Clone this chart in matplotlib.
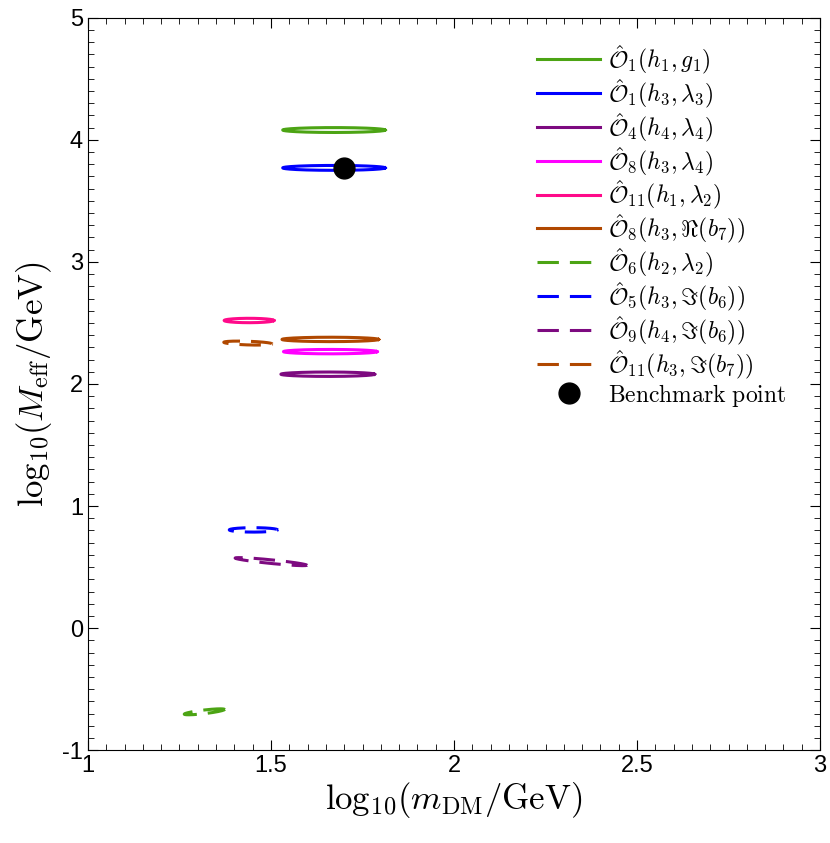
import matplotlib
matplotlib.use("Agg")
import matplotlib.pyplot as plt
import numpy as np

plt.rcParams['mathtext.fontset'] = 'cm'
plt.rcParams['font.family'] = ['Liberation Sans', 'DejaVu Sans']
plt.rcParams['axes.unicode_minus'] = False

# contour ellipses: centre, half-width, half-height, tilt (dy/dx)
labels = [r'$\hat{\mathcal{O}}_1(h_1,g_1)$',
          r'$\hat{\mathcal{O}}_1(h_3,\lambda_3)$',
          r'$\hat{\mathcal{O}}_4(h_4,\lambda_4)$',
          r'$\hat{\mathcal{O}}_8(h_3,\lambda_4)$',
          r'$\hat{\mathcal{O}}_{11}(h_1,\lambda_2)$',
          r'$\hat{\mathcal{O}}_8(h_3,\Re(b_7))$',
          r'$\hat{\mathcal{O}}_6(h_2,\lambda_2)$',
          r'$\hat{\mathcal{O}}_5(h_3,\Im(b_6))$',
          r'$\hat{\mathcal{O}}_9(h_4,\Im(b_6))$',
          r'$\hat{\mathcal{O}}_{11}(h_3,\Im(b_7))$']
colors = ['#4ca414', '#0000ff', '#7d0a80', '#ff00ff', '#ff0a8a', '#b04800',
          '#4ca414', '#0000ff', '#7d0a80', '#b04800']
dashed = [False] * 6 + [True] * 4
cx = [1.672, 1.672, 1.655, 1.662, 1.440, 1.662, 1.318, 1.452, 1.500, 1.437]
cy = [4.08, 3.77, 2.08, 2.265, 2.52, 2.365, -0.685, 0.805, 0.545, 2.335]
hw = [0.140, 0.140, 0.128, 0.128, 0.068, 0.132, 0.055, 0.066, 0.098, 0.066]
hh = [0.020, 0.020, 0.018, 0.018, 0.018, 0.018, 0.015, 0.018, 0.015, 0.015]
tilt = [0, 0, 0, 0, 0, 0, 0.35, 0, -0.30, -0.10]

bench_x, bench_y = 1.70, 3.77

fig = plt.figure(figsize=(8.3, 8.43), dpi=100)
ax = fig.add_axes([0.106, 0.110, 0.882, 0.869])

t = np.linspace(0, 2 * np.pi, 400)
for i in range(len(labels)):
    x = cx[i] + hw[i] * np.cos(t)
    y = cy[i] + hh[i] * np.sin(t) + tilt[i] * hw[i] * np.cos(t)
    if dashed[i]:
        ax.plot(x, y, color=colors[i], lw=2.2, dashes=(7, 3.6), label=labels[i])
    else:
        ax.plot(x, y, color=colors[i], lw=2.2, label=labels[i])

ax.plot([bench_x], [bench_y], 'o', color='black', markersize=15,
        label=r'$\mathrm{Benchmark\ point}$')

ax.set_xlim(1, 3)
ax.set_ylim(-1, 5)
ax.set_xticks([1, 1.5, 2, 2.5, 3])
ax.set_xticklabels(['1', '1.5', '2', '2.5', '3'])
ax.set_yticks(range(-1, 6))
ax.set_xticks(np.arange(1, 3.001, 0.05), minor=True)
ax.set_yticks(np.arange(-1, 5.001, 0.1), minor=True)
ax.tick_params(which='both', direction='in', top=True, right=True, labelsize=17)
ax.tick_params(which='major', length=7)
ax.tick_params(which='minor', length=4)
ax.set_xlabel(r'$\mathrm{log}_{10}(m_{\rm DM}/\mathrm{GeV})$', fontsize=25, labelpad=2)
ax.set_ylabel(r'$\mathrm{log}_{10}(M_{\rm eff}/\mathrm{GeV})$', fontsize=25, labelpad=6)

ax.legend(loc='upper left', bbox_to_anchor=(0.613, 0.965), frameon=False,
          fontsize=17, handlelength=2.7, labelspacing=0.04, handletextpad=0.3,
          borderpad=0, borderaxespad=0)

fig.savefig('out.png', dpi=100)
